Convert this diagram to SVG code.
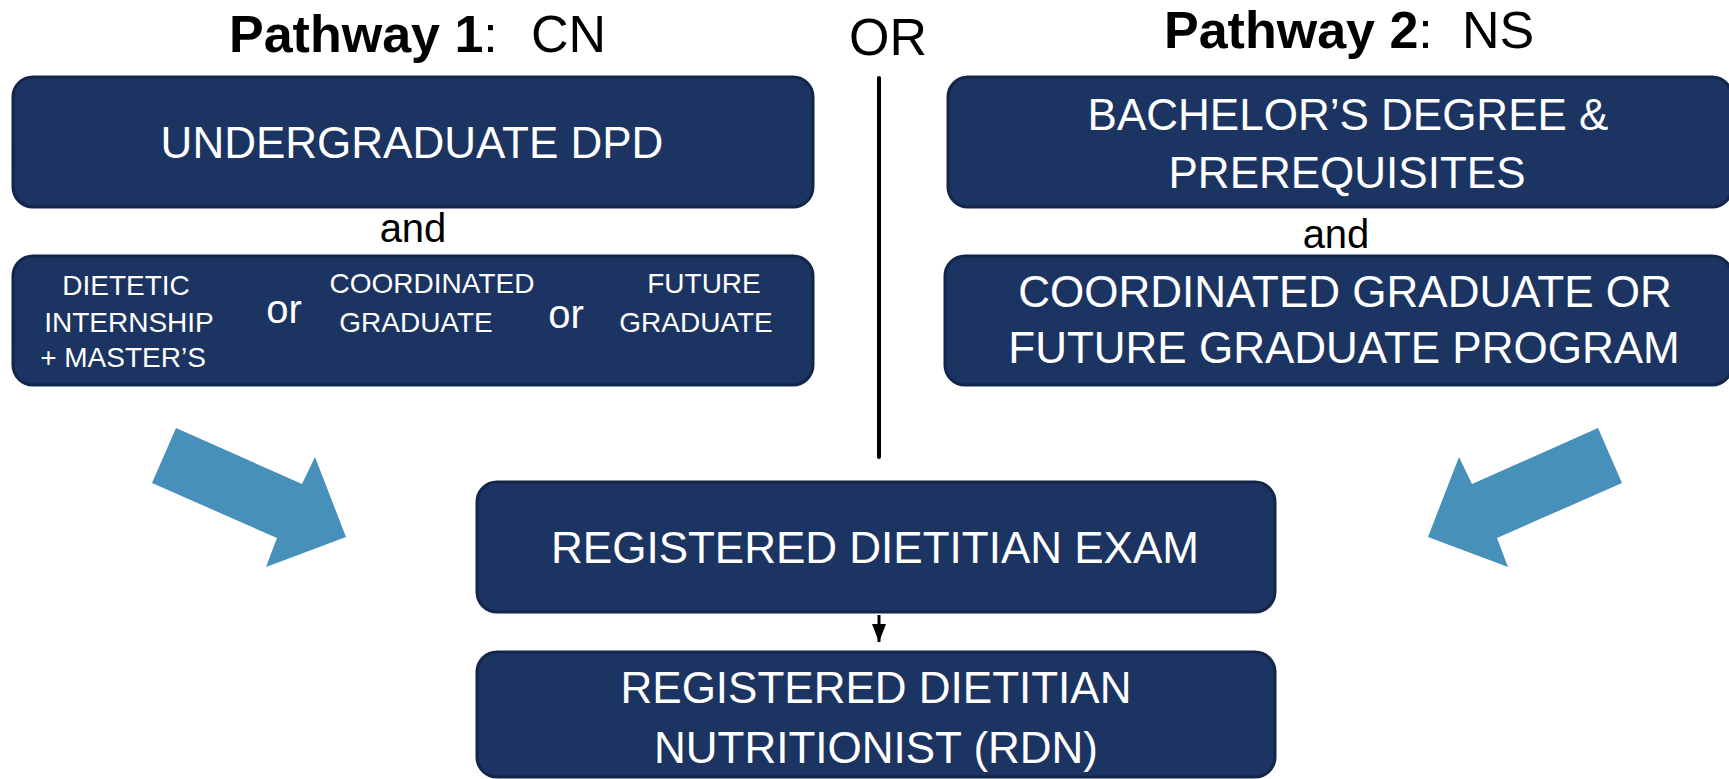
<svg xmlns="http://www.w3.org/2000/svg" width="1729" height="779" viewBox="0 0 1729 779">
<style>
.box{fill:#1c3461;stroke:#13254a;stroke-width:3}
.bt{fill:#ffffff;font-family:"Liberation Sans",Arial,sans-serif;font-size:44px;text-anchor:middle}
.st{fill:#ffffff;font-family:"Liberation Sans",Arial,sans-serif;font-size:28px;text-anchor:middle}
.orw{fill:#ffffff;font-family:"Liberation Sans",Arial,sans-serif;font-size:40px;text-anchor:middle}
.lbl{fill:#000000;font-family:"Liberation Sans",Arial,sans-serif;font-size:40px;text-anchor:middle}
.title{fill:#000000;font-family:"Liberation Sans",Arial,sans-serif;font-size:52px}
.blue{fill:#4690ba}
</style>
<defs>
<marker id="ah" markerWidth="18" markerHeight="14" refX="18" refY="7" orient="auto" markerUnits="userSpaceOnUse" viewBox="0 0 18 14">
<path d="M0,0 L18,7 L0,14 Z" fill="#000"/>
</marker>
</defs>
<rect width="1729" height="779" fill="#ffffff"/>

<g id="titles">
<text class="title" y="52"><tspan x="229" font-weight="bold">Pathway 1</tspan><tspan>:</tspan><tspan x="531">CN</tspan></text>
<text class="title" y="55" x="888" font-size="41" text-anchor="middle">OR</text>
<text class="title" y="48"><tspan x="1164" font-weight="bold">Pathway 2</tspan><tspan>:</tspan><tspan x="1462">NS</tspan></text>
</g>

<g id="node-undergrad">
<rect class="box" x="13" y="77" width="800" height="130" rx="20"/>
<text class="bt" x="412" y="158">UNDERGRADUATE DPD</text>
</g>
<text class="lbl" x="413" y="242">and</text>
<g id="node-options">
<rect class="box" x="13" y="256" width="800" height="129" rx="20"/>
<text class="st" x="126" y="295">DIETETIC</text>
<text class="st" x="129" y="332">INTERNSHIP</text>
<text class="st" x="123" y="367">+ MASTER’S</text>
<text class="orw" x="284" y="323">or</text>
<text class="st" x="432" y="293">COORDINATED</text>
<text class="st" x="416" y="332">GRADUATE</text>
<text class="orw" x="566" y="328">or</text>
<text class="st" x="704" y="293">FUTURE</text>
<text class="st" x="696" y="332">GRADUATE</text>
</g>

<g id="node-bachelor">
<rect class="box" x="948" y="77" width="784" height="130" rx="20"/>
<text class="bt" x="1348" y="130">BACHELOR’S DEGREE &amp;</text>
<text class="bt" x="1347" y="188">PREREQUISITES</text>
</g>
<text class="lbl" x="1336" y="248">and</text>
<g id="node-coordinated">
<rect class="box" x="945" y="256" width="787" height="129" rx="20"/>
<text class="bt" x="1345" y="307" font-size="45">COORDINATED GRADUATE OR</text>
<text class="bt" x="1344" y="363">FUTURE GRADUATE PROGRAM</text>
</g>

<g id="node-exam">
<rect class="box" x="477" y="482" width="798" height="130" rx="20"/>
<text class="bt" x="875" y="563">REGISTERED DIETITIAN EXAM</text>
</g>

<g id="node-rdn">
<rect class="box" x="477" y="652" width="798" height="125" rx="20"/>
<text class="bt" x="876" y="703">REGISTERED DIETITIAN</text>
<text class="bt" x="876" y="763">NUTRITIONIST (RDN)</text>
</g>

<g id="connectors">
<line x1="879" y1="78" x2="879" y2="457" stroke="#000" stroke-width="4" stroke-linecap="round"/>
<line x1="879" y1="615" x2="879" y2="642" stroke="#000" stroke-width="3" marker-end="url(#ah)"/>
<polygon class="blue" points="176,428 302,484 315,457 346,537 266,567 277,538 152,483"/>
<polygon class="blue" points="1598,428 1472,484 1459,457 1428,537 1508,567 1497,538 1622,483"/>
</g>
</svg>
